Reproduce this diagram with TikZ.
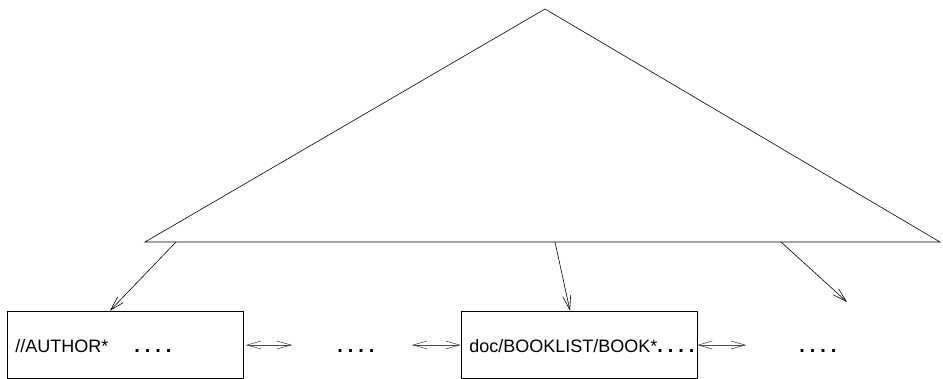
\documentclass[tikz,border=0pt]{standalone}
\usepackage{fontspec}
\setmainfont{Liberation Sans}
\usetikzlibrary{arrows.meta, calc}
\newcommand{\fourdots}{.\kern5pt.\kern5pt.\kern5pt.}
\tikzset{
    listbox/.style={draw, inner sep=0pt, minimum width=236pt, minimum height=67pt},
    keylabel/.style={anchor=base west, inner sep=0pt, font=\fontsize{18}{20}\selectfont},
    moredots/.style={anchor=base west, inner sep=0pt, font=\fontsize{20}{22}\selectfont\bfseries},
    open/.style={-{Straight Barb[length=14pt, width=8pt]}},
    link/.style={{Straight Barb[length=14pt, width=8pt]}-{Straight Barb[length=14pt, width=8pt]}, black!70}
}
\begin{document}
\begin{tikzpicture}[x=1pt, y=-1pt, line width=0.6pt]
        \useasboundingbox (0,0) rectangle (943,379);

        % the tree
        \coordinate (top) at (545,9);
        \coordinate (left) at (145,242);
        \coordinate (right) at (940,242);
        \draw (top) -- (left) -- (right) -- cycle;

        % the lists
        \node[listbox] (author) at (125,344.5) {};
        \node[listbox] (book) at (579,344.5) {};
        \node[keylabel] (authortext) at (15,353) {//AUTHOR*};
        \node[keylabel] (booktext) at (469,353) {doc/BOOKLIST/BOOK*};
        \node[moredots] (dotsa) at (134,353) {\fourdots};
        \node[moredots] (dotsb) at (337,353) {\fourdots};
        \node[moredots] (dotsc) at (657,353) {\fourdots};
        \node[moredots] (dotsd) at (799,353) {\fourdots};

        % pointers from the tree
        \coordinate (ta) at (176,242);
        \coordinate (tb) at (555,242);
        \coordinate (tc) at (781,242);
        \coordinate (tcend) at (847,302);
        \draw[open] (ta) -- ([xshift=-15pt]author.north);
        \draw[open] (tb) -- ([xshift=-9pt]book.north);
        \draw[open] (tc) -- (tcend);

        % links between the lists
        \coordinate (la) at (246,345);
        \coordinate (lb) at (292,345);
        \coordinate (lc) at (412,345);
        \coordinate (ld) at (746,345);
        \draw[link] (la) -- (lb);
        \draw[link] (lc) -- (book.west |- lc);
        \draw[link] (book.east |- ld) -- (ld);
\end{tikzpicture}
\end{document}
